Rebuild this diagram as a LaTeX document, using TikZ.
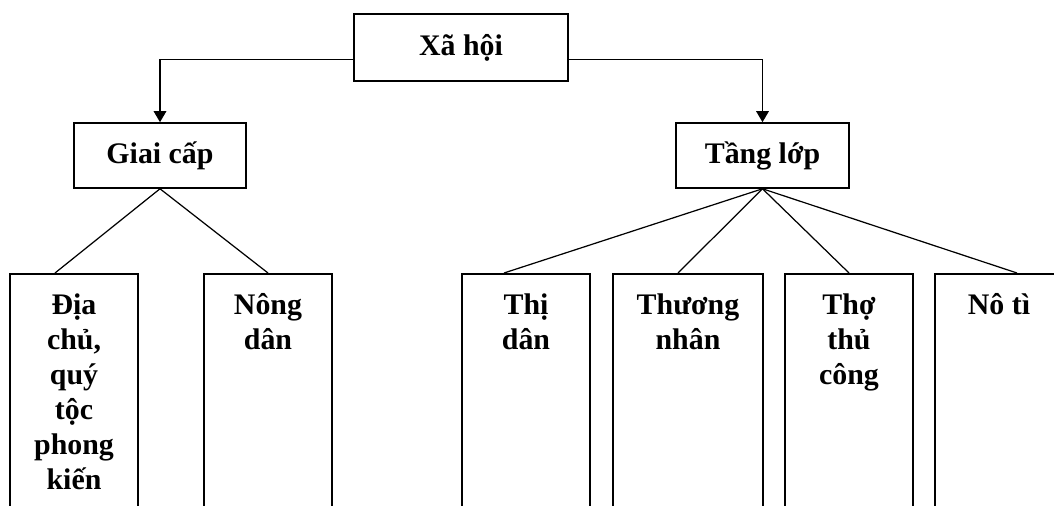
\documentclass[tikz,border=0pt]{standalone}
\usepackage{fontspec}
\setmainfont{Liberation Serif}
\usetikzlibrary{positioning,arrows.meta}
\tikzset{
	box/.style={draw, line width=0.9pt, inner sep=0pt, font=\fontsize{17}{20}\selectfont\bfseries},
	colbox/.style={draw, line width=0.9pt, anchor=north, minimum height=5cm},
	lbl/.style={align=center, inner sep=0pt, anchor=north, font=\fontsize{17}{20}\selectfont\bfseries},
	arr/.style={line width=0.8pt, -{Triangle[width=0.25cm,length=0.22cm]}},
	link/.style={line width=0.7pt},
}
\begin{document}
\begin{tikzpicture}[x=0.02cm, y=-0.02cm]
		\useasboundingbox (0,0) rectangle (1054,506);
		\clip (0,0) rectangle (1054,506);

		% Top level
		\node[box, minimum width=4.28cm, minimum height=1.34cm] (xh) at (461,47.5) {Xã hội};
		\node[box, minimum width=3.45cm, minimum height=1.3cm] (gc) at (160,155.5) {Giai cấp};
		\node[box, minimum width=3.46cm, minimum height=1.3cm] (tl) at (762.5,155.5) {Tầng lớp};
		\draw[arr] ([yshift=-0.24cm]xh.west) -| (gc.north);
		\draw[arr] ([yshift=-0.24cm]xh.east) -| (tl.north);

		% Giai cap
		\node[colbox, minimum width=2.57cm] (dc) at (74,273) {};
		\node[colbox, minimum width=2.56cm] (nd) at (268,273) {};
		\node[lbl, below=0.4cm of dc.north] (dct) {Địa\\chủ,\\quý\\tộc\\phong\\kiến};
		\node[lbl, below=0.4cm of nd.north] (ndt) {Nông\\dân};
		\draw[link] (gc.south) -- ([xshift=-0.38cm]dc.north);
		\draw[link] (gc.south) -- (nd.north);

		% Tang lop
		\node[colbox, minimum width=2.56cm] (td) at (526,273) {};
		\node[colbox, minimum width=3cm] (tn) at (688,273) {};
		\node[colbox, minimum width=2.55cm] (ttc) at (849,273) {};
		\node[colbox, minimum width=2.56cm] (nt) at (999,273) {};
		\node[lbl, below=0.4cm of td.north] (tdt) {Thị\\dân};
		\node[lbl, below=0.4cm of tn.north] (tnt) {Thương\\nhân};
		\node[lbl, below=0.4cm of ttc.north] (ttct) {Thợ\\thủ\\công};
		\node[lbl, below=0.4cm of nt.north] (ntt) {Nô tì};
		\draw[link] (tl.south) -- ([xshift=-0.44cm]td.north);
		\draw[link] (tl.south) -- ([xshift=-0.2cm]tn.north);
		\draw[link] (tl.south) -- (ttc.north);
		\draw[link] (tl.south) -- ([xshift=0.36cm]nt.north);
	\end{tikzpicture}
\end{document}
